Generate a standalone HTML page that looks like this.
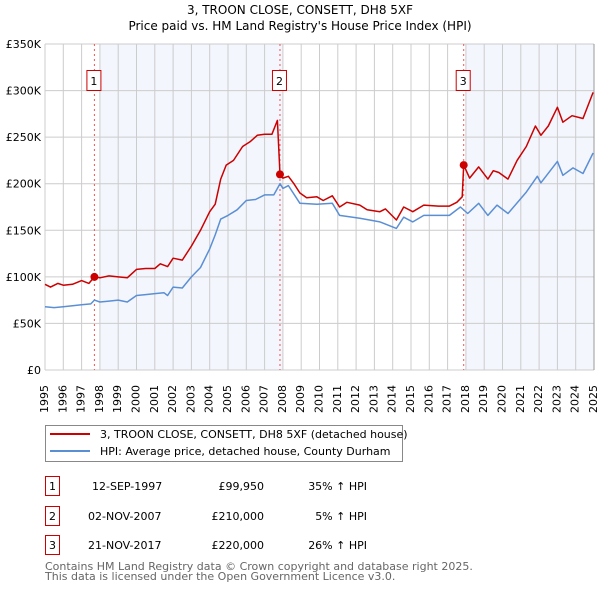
<!DOCTYPE html>
<html><head><meta charset="utf-8"><style>
body{margin:0;background:#fff;font-family:"DejaVu Sans","Liberation Sans",sans-serif;}
svg{display:block}
.yl{position:absolute;font-size:11px;font-family:"DejaVu Sans","Liberation Sans",sans-serif;white-space:nowrap;line-height:12px;width:12px;height:32px;text-align:left;writing-mode:vertical-rl;writing-mode:sideways-lr}
</style></head><body>
<div style="position:relative;width:600px;height:590px">
<svg id="c" width="600" height="590" viewBox="0 0 600 590" font-family="DejaVu Sans, Liberation Sans, sans-serif">
<text x="300" y="14" text-anchor="middle" font-size="12">3, TROON CLOSE, CONSETT, DH8 5XF</text>
<text x="300" y="30" text-anchor="middle" font-size="12">Price paid vs. HM Land Registry's House Price Index (HPI)</text>
<g id="plot"></g>
<g>
<rect x="45.5" y="425.5" width="357" height="36" fill="#fff" stroke="#888"/>
<line x1="50" y1="434" x2="90" y2="434" stroke="#cc0000" stroke-width="2"/>
<text x="100" y="438" font-size="11">3, TROON CLOSE, CONSETT, DH8 5XF (detached house)</text>
<line x1="50" y1="451" x2="90" y2="451" stroke="#5b8fd4" stroke-width="2"/>
<text x="100" y="455" font-size="11">HPI: Average price, detached house, County Durham</text>
</g>
<g font-size="11">
<rect x="45.5" y="476.5" width="14" height="19" fill="#fff" stroke="#cc0000"/><text x="52.5" y="490" text-anchor="middle">1</text>
<text x="92" y="490">12-SEP-1997</text><text x="264" y="490" text-anchor="end">£99,950</text><text x="367" y="490" text-anchor="end">35% ↑ HPI</text>
<rect x="45.5" y="506.5" width="14" height="19" fill="#fff" stroke="#cc0000"/><text x="52.5" y="520" text-anchor="middle">2</text>
<text x="88" y="520">02-NOV-2007</text><text x="264" y="520" text-anchor="end">£210,000</text><text x="367" y="520" text-anchor="end">5% ↑ HPI</text>
<rect x="45.5" y="535.5" width="14" height="19" fill="#fff" stroke="#cc0000"/><text x="52.5" y="549" text-anchor="middle">3</text>
<text x="88" y="549">21-NOV-2017</text><text x="264" y="549" text-anchor="end">£220,000</text><text x="367" y="549" text-anchor="end">26% ↑ HPI</text>
</g>
<text x="45" y="570" font-size="11" fill="#666">Contains HM Land Registry data © Crown copyright and database right 2025.</text>
<text x="45" y="580" font-size="11" fill="#666">This data is licensed under the Open Government Licence v3.0.</text>
</svg>
<div id="xl"></div>
</div>
<script>
const hpiYears=[1995,1995.5,1996,1996.5,1997,1997.5,1997.7,1998,1998.5,1999,1999.5,2000,2000.5,2001,2001.5,2001.7,2002,2002.5,2003,2003.5,2004,2004.3,2004.6,2005,2005.5,2006,2006.5,2007,2007.5,2007.84,2008,2008.3,2008.93,2009.86,2010.7,2011.1,2012.2,2013.3,2014.2,2014.6,2015.1,2015.7,2017.1,2017.7,2018.1,2018.7,2019.2,2019.7,2020.3,2021.3,2021.9,2022.1,2023.0,2023.3,2023.85,2024.4,2024.95];
const hpiValues=[68,67,68,69,70,71,75,73,74,75,73,80,81,82,83,80,89,88,100,110,130,145,162,166,172,182,183,188,188,200,195,198,179,178,179,166,163,159,152,164,159,166,166,175,168,179,166,177,168,191,208,201,224,209,217,211,233];
const priceYears=[1995,1995.3,1995.7,1996,1996.5,1997,1997.4,1997.7,1998,1998.5,1999,1999.5,2000,2000.5,2001,2001.3,2001.7,2002,2002.5,2003,2003.5,2004,2004.3,2004.6,2004.9,2005.3,2005.8,2006.2,2006.6,2007,2007.4,2007.7,2007.84,2008,2008.3,2008.6,2008.93,2009.3,2009.86,2010.2,2010.7,2011.1,2011.5,2012.2,2012.6,2013.3,2013.6,2014.2,2014.6,2015.1,2015.7,2016.5,2017.1,2017.5,2017.8,2017.88,2018.2,2018.7,2019.2,2019.5,2019.8,2020.3,2020.8,2021.3,2021.8,2022.1,2022.5,2023.0,2023.3,2023.8,2024.4,2024.95];
const priceValues=[92,89,93,91,92,96,93,100,99,101,100,99,108,109,109,114,111,120,118,133,150,170,178,205,220,225,240,245,252,253,253,268,210,206,208,200,190,185,186,182,187,175,180,177,172,170,173,161,175,170,177,176,176,180,186,220,206,218,205,214,212,205,225,240,262,252,262,282,266,273,270,298];
const saleYears=[1997.7,2007.84,2017.88];
const saleValues=[99.95,210,220];
const saleLabels=["1","2","3"];
const yTicks=[0,50,100,150,200,250,300,350];
const yTickLabels=["£0","£50K","£100K","£150K","£200K","£250K","£300K","£350K"];
const xTicks=[1995,1996,1997,1998,1999,2000,2001,2002,2003,2004,2005,2006,2007,2008,2009,2010,2011,2012,2013,2014,2015,2016,2017,2018,2019,2020,2021,2022,2023,2024,2025];
const shadeRanges=[[1998,2008],[2018,2025]];

const NS="http://www.w3.org/2000/svg";
const X0=45,X1=594,Y0=370,Y1=44;
const xs=y=>X0+(y-1995)/30*(X1-X0);
const ys=v=>Y0-v/350*(Y0-Y1);
const g=document.getElementById('plot');
const xl=document.getElementById('xl');
function mk(t,a){const e=document.createElementNS(NS,t);for(const k in a)e.setAttribute(k,a[k]);g.appendChild(e);return e;}
shadeRanges.forEach(r=>{const e=mk('rect',{x:xs(r[0]),y:Y1,width:xs(r[1])-xs(r[0]),height:Y0-Y1,fill:'#f3f6fd'});

});
xTicks.forEach((t,i)=>{const x=xs(t);const l=mk('line',{x1:x,y1:Y1,x2:x,y2:Y0,stroke:'#ccc'});


const d=document.createElement('div');d.className='yl';d.textContent=t;
d.style.left=(x-6)+'px';d.style.top='381px';


xl.appendChild(d);});
yTicks.forEach((t,i)=>{const y=ys(t);const l=mk('line',{x1:X0,y1:y,x2:X1,y2:y,stroke:'#ccc'});


const tx=mk('text',{x:41,y:y+4,'font-size':11,'text-anchor':'end'});tx.textContent=yTickLabels[i];

});
const ax=mk('line',{x1:X1,y1:Y1,x2:X1,y2:Y0,stroke:'#999'});


saleYears.forEach((s,i)=>{const x=xs(s);const l=mk('line',{x1:x,y1:Y1,x2:x,y2:Y0,stroke:'#ee5555','stroke-dasharray':'2,3','stroke-width':1});


const b=mk('rect',{x:x-7.5,y:70.5,width:14,height:20,fill:'#fff',stroke:'#cc0000'});


const t=mk('text',{x:x-0.5,y:85,'font-size':11,'text-anchor':'middle'});t.textContent=saleLabels[i];

});
function path(xa,va,col,name){const d=xa.map((y,i)=>(i?'L':'M')+xs(y).toFixed(1)+','+ys(va[i]).toFixed(1)).join('');
const p=mk('path',{d:d,fill:'none',stroke:col,'stroke-width':1.5,'stroke-linejoin':'round'});

}
path(hpiYears,hpiValues,'#5b8fd4','hpi-line');
path(priceYears,priceValues,'#cc0000','price-line');
saleYears.forEach((s,i)=>{const c=mk('circle',{cx:xs(s),cy:ys(saleValues[i]),r:4,fill:'#cc0000'});

});
</script>
</body></html>
